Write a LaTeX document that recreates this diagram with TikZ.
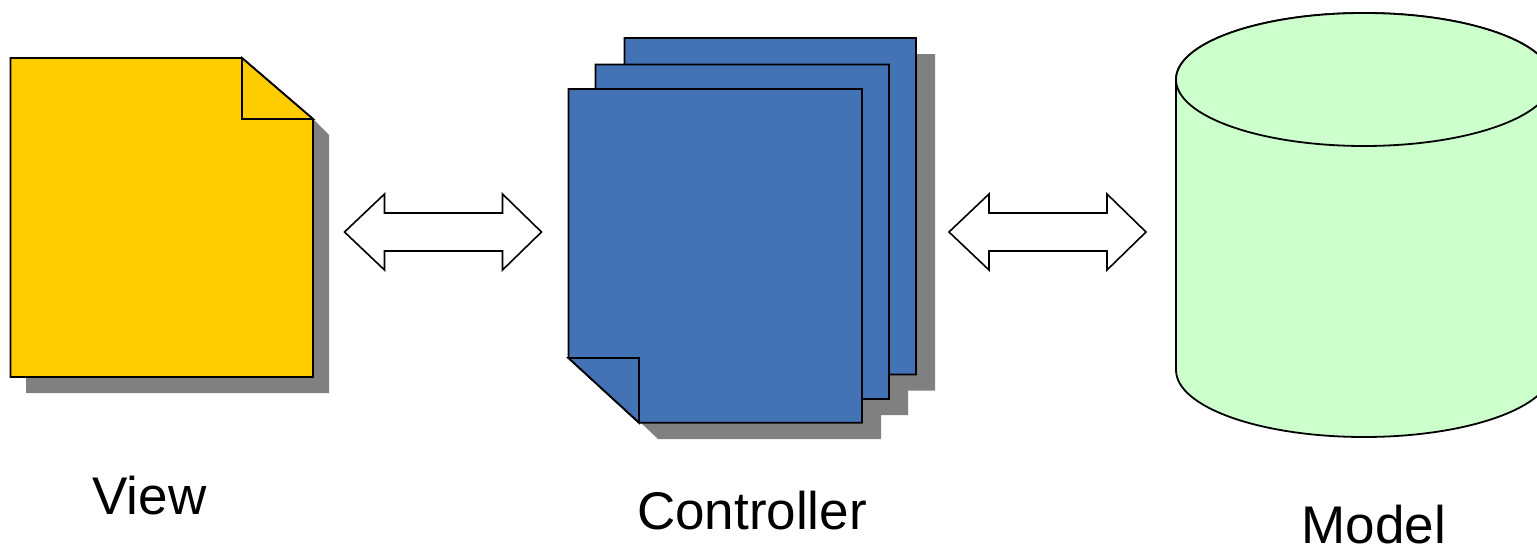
\documentclass[tikz,border=0pt]{standalone}
\usepackage{fontspec}
\setmainfont{Liberation Sans}
\definecolor{viewfill}{RGB}{255,204,0}
\definecolor{ctrlfill}{RGB}{67,114,181}
\definecolor{modelfill}{RGB}{204,255,204}
\definecolor{shadowgray}{RGB}{128,128,128}
\tikzset{
  outline/.style={draw=black,line width=1.8pt,line join=miter},
  shadowshape/.style={fill=shadowgray,draw=none},
  viewshape/.style={outline,fill=viewfill},
  ctrlshape/.style={outline,fill=ctrlfill},
  modelshape/.style={outline,fill=modelfill},
  blockarrow/.style={draw=black,line width=1.6pt,fill=white,line join=miter},
  caption/.style={anchor=base,inner sep=0pt,font=\fontsize{53}{53}\selectfont}
}
\newcommand{\blockarrowpath}[2]{%
  \draw[blockarrow] (#1) -- ++(40,-38) -- ++(0,19) -- ++(118,0) -- ++(0,-19) -- (#2)
    -- ++(-39,38) -- ++(0,-19) -- ++(-118,0) -- ++(0,19) -- cycle;}
\begin{document}
\begin{tikzpicture}[x=1pt,y=-1pt]
\useasboundingbox (0,0) rectangle (1537,546);
\begin{scope}
\clip (0,0) rectangle (1537,546);
% View
\fill[shadowshape] (26,200) -- (313,119) -- (329,135) -- (329,393) -- (26,393) -- cycle;
\draw[viewshape] (10.5,58) -- (242,58) -- (313,119) -- (313,377) -- (10.5,377) -- cycle;
\draw[viewshape] (242,58) -- (313,119) -- (242,119) -- cycle;
% Controller
\fill[shadowshape] (640,422) -- (640,300) -- (916,54) -- (935,54) -- (935,390.5) -- (908,390.5) -- (908,415) -- (881,415) -- (881,439) -- (658,439) -- cycle;
\draw[ctrlshape] (624.5,38) -- (916,38) -- (916,374.5) -- (700,374.5) -- (624.5,310) -- cycle;
\draw[ctrlshape] (595.5,64.5) -- (889,64.5) -- (889,399) -- (670,399) -- (595.5,335) -- cycle;
\draw[ctrlshape] (568.5,89) -- (862,89) -- (862,422.7) -- (639,422.7) -- (568.5,358) -- cycle;
\draw[ctrlshape] (568.5,358) -- (639,358) -- (639,422.7) -- cycle;
% Model
\draw[modelshape] (1176,79.5) -- (1176,370) arc[start angle=180,end angle=0,x radius=188,y radius=67] -- (1552,79.5) arc[start angle=0,end angle=180,x radius=188,y radius=-66.5] -- cycle;
\draw[modelshape] (1364,79.5) ellipse[x radius=188,y radius=66.5];
\end{scope}
% Arrows
\coordinate (vl) at (344.5,232);
\coordinate (vr) at (541.5,232);
\coordinate (ml) at (949,232);
\coordinate (mr) at (1146,232);
\blockarrowpath{vl}{vr}
\blockarrowpath{ml}{mr}
% Labels
\node[caption] (viewlabel) at (149.5,514) {View};
\node[caption] (controllerlabel) at (752,529) {Controller};
\node[caption] (modellabel) at (1374,543.5) {Model};
\end{tikzpicture}
\end{document}
